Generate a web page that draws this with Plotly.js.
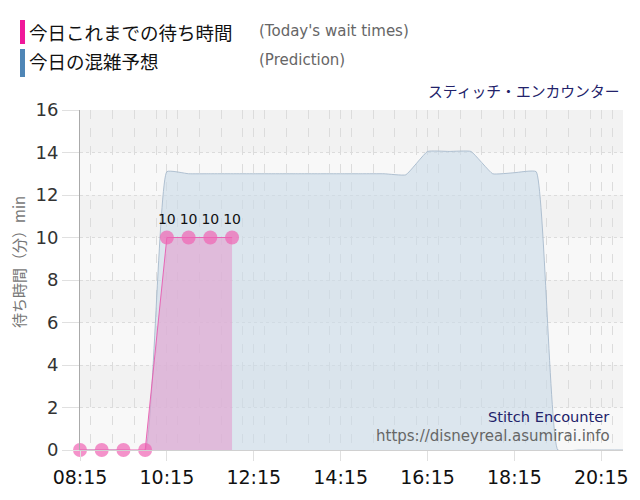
<!DOCTYPE html>
<html>
<head>
<meta charset="utf-8">
<script src="https://cdn.plot.ly/plotly-3.0.1.min.js"></script>
<style>html,body{margin:0;padding:0;background:#fff;}#chart{width:640px;height:500px;}</style>
</head>
<body>
<div id="chart"></div>
<script>
// ---- data ----
const DAY = '2024-06-01 ';
const predTimes = ['08:15','08:45','09:15','09:45','10:15','10:45','11:15','11:45','12:15','12:45','13:15','13:45','14:15','14:45','15:15','15:45','16:15','16:45','17:15','17:45','18:15','18:45','19:15','19:45','20:15','20:45'];
const predValues = [0,0,0,0,13.1,13,13,13,13,13,13,13,13,13,13,12.95,14.05,14.05,14.05,13.0,13.05,13.1,0,0,0,0];
const actualTimes = ['08:15','08:45','09:15','09:45','10:15','10:45','11:15','11:45'];
const actualValues = [0,0,0,0,10,10,10,10];
const yTicks = [0,2,4,6,8,10,12,14,16];
const legendMain = ['今日これまでの待ち時間','今日の混雑予想'];
const legendSub = ["(Today's wait times)",'(Prediction)'];
const attractionJa = 'スティッチ・エンカウンター';
const attractionEn = 'Stitch Encounter';
const siteUrl = 'https://disneyreal.asumirai.info';
const yTitle = '待ち時間（分）min';

const JP = '"Noto Sans CJK JP", "DejaVu Sans", sans-serif';
const LAT = '"DejaVu Sans", Verdana, sans-serif';

const traces = [
  {
    x: predTimes.map(t => DAY + t), y: predValues,
    type: 'scatter', mode: 'lines',
    line: {shape: 'spline', smoothing: 0.35, color: 'rgba(160,180,200,0.8)', width: 1},
    fill: 'tozeroy', fillcolor: 'rgba(201,218,231,0.6)',
    hoverinfo: 'skip', showlegend: false
  },
  {
    x: actualTimes.map(t => DAY + t), y: actualValues,
    type: 'scatter', mode: 'lines+markers+text',
    line: {color: 'rgba(232,90,175,0.9)', width: 1},
    marker: {size: 14, color: 'rgba(240,100,180,0.7)'},
    fill: 'tozeroy', fillcolor: 'rgba(226,159,207,0.6)',
    text: actualValues.map(v => v > 0 ? String(v) : ''),
    textposition: 'top center',
    textfont: {family: LAT, size: 14, color: '#111'},
    cliponaxis: false,
    hoverinfo: 'skip', showlegend: false
  }
];

// alternating background bands
const bandShapes = [];
for (let i = 0; i < yTicks.length - 1; i++) {
  if (i % 2 === 0) {
    bandShapes.push({type: 'rect', xref: 'paper', yref: 'y', x0: 0, x1: 1, y0: yTicks[i], y1: yTicks[i+1],
      fillcolor: '#f8f8f8', line: {width: 0}, layer: 'below'});
  }
}
const legendColors = ['#f0189a', '#4f86b6'];
const legendShapes = legendColors.map((c, i) => ({
  type: 'rect', xref: 'paper', yref: 'paper',
  x0: -60/543, x1: -55/543,
  y0: (450 - (i === 0 ? 44 : 77)) / 340, y1: (450 - (i === 0 ? 20 : 49)) / 340,
  fillcolor: c, line: {width: 0}
}));

const annotations = [];
legendMain.forEach((t, i) => {
  annotations.push({text: t, xref: 'paper', yref: 'paper', x: -53/543, y: (450 - (i === 0 ? 32 : 61)) / 340,
    xanchor: 'left', yanchor: 'middle', showarrow: false, font: {family: JP, size: 18.5, color: '#111'}});
  annotations.push({text: legendSub[i], xref: 'paper', yref: 'paper', x: 177/543, y: (450 - (i === 0 ? 31 : 60)) / 340,
    xanchor: 'left', yanchor: 'middle', showarrow: false, font: {family: LAT, size: 15, color: '#666'}});
});
annotations.push({text: attractionJa, xref: 'paper', yref: 'paper', x: (621-80)/543, y: (450 - 90) / 340,
  xanchor: 'right', yanchor: 'middle', showarrow: false, font: {family: JP, size: 14.8, color: '#22226a'}});
annotations.push({text: attractionEn, xref: 'paper', yref: 'paper', x: (611-80)/543, y: (450 - 416) / 340,
  xanchor: 'right', yanchor: 'middle', showarrow: false, font: {family: LAT, size: 14.6, color: '#22226a'}});
annotations.push({text: siteUrl, xref: 'paper', yref: 'paper', x: (612-80)/543, y: (450 - 436) / 340,
  xanchor: 'right', yanchor: 'middle', showarrow: false, font: {family: LAT, size: 15, color: '#666'}});
annotations.push({text: yTitle, xref: 'paper', yref: 'paper', x: (18-80)/543, y: (450 - 262) / 340,
  xanchor: 'center', yanchor: 'middle', textangle: -90, showarrow: false, font: {family: JP, size: 15, color: '#777'}});

const layout = {
  width: 640, height: 500,
  margin: {l: 80, r: 17, t: 110, b: 50},
  paper_bgcolor: '#ffffff', plot_bgcolor: '#f2f2f2',
  showlegend: false,
  xaxis: {
    type: 'date',
    range: [DAY + '08:15', DAY + '20:45'],
    tick0: DAY + '08:15', dtick: 7200000, tickformat: '%H:%M',
    showgrid: true, gridcolor: '#dcdcdc', griddash: 'dash', gridwidth: 1,
    minor: {dtick: 1800000, showgrid: true, gridcolor: '#dcdcdc', griddash: 'dash', gridwidth: 1},
    ticks: 'outside', ticklen: 10, tickcolor: '#e0e0e0',
    showline: true, linecolor: '#d0d0d0', linewidth: 1,
    zeroline: false, fixedrange: true,
    tickfont: {family: LAT, size: 19, color: '#111'}
  },
  yaxis: {
    range: [0, 16], tickvals: yTicks,
    showgrid: true, gridcolor: '#dcdcdc', griddash: 'dot', gridwidth: 1,
    ticks: 'outside', ticklen: 17, tickcolor: '#e0e0e0',
    showline: true, linecolor: '#aaaaaa', linewidth: 1,
    zeroline: false, fixedrange: true,
    tickfont: {family: LAT, size: 18, color: '#333'}
  },
  shapes: bandShapes.concat(legendShapes),
  annotations: annotations
};

Plotly.newPlot('chart', traces, layout, {displayModeBar: false, staticPlot: true});
</script>
</body>
</html>
